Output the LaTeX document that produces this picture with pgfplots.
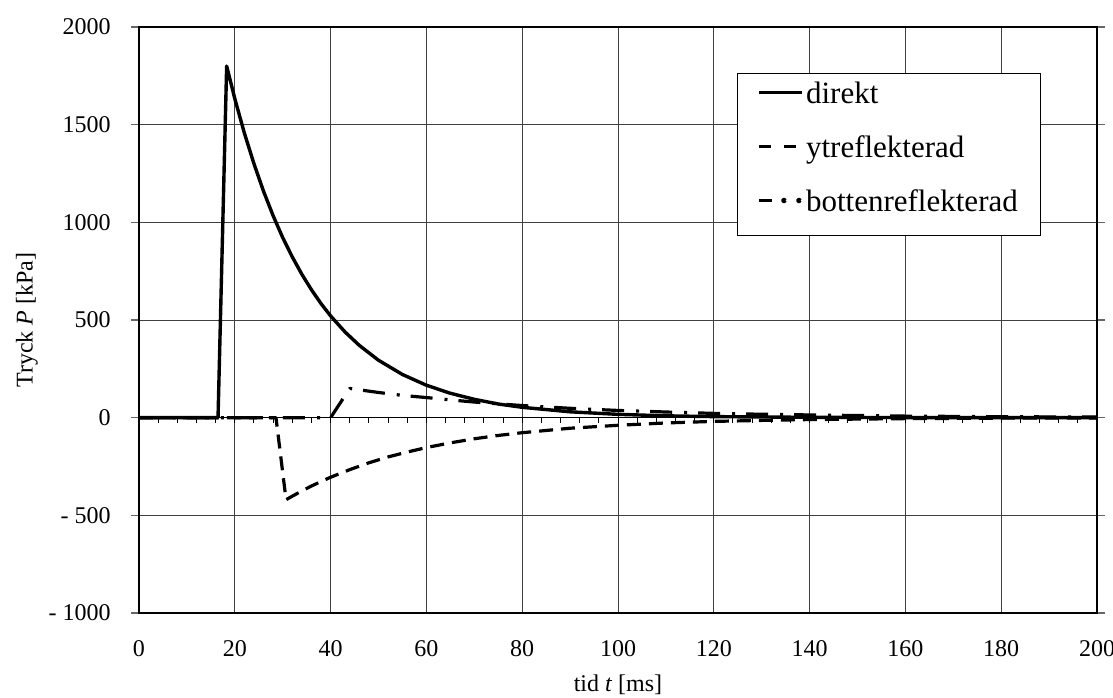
\documentclass[border=0pt]{standalone}
\usepackage{fontspec}
\setmainfont{Liberation Serif}
\usepackage{pgfplots}
\pgfplotsset{compat=1.18}

\begin{document}
\begin{tikzpicture}
\useasboundingbox (-69.5pt,-42pt) rectangle (487pt,306.5pt);
\begin{axis}[scale only axis,width=479pt,height=293pt,
 xmin=0,xmax=200,ymin=-1000,ymax=2000,
 xtick={0,20,...,200},ytick={-1000,-500,0,500,1000,1500,2000},
 xticklabels={0,20,40,60,80,100,120,140,160,180,200},
 yticklabels={- 1000,- 500,0,500,1000,1500,2000},
 grid=major,grid style={black!75,line width=0.5pt},
 axis line style={black,line width=1pt},
 xtick style={draw=none},
 ytick style={black!60,line width=0.6pt},tick align=outside,major tick length=4pt,
 tick label style={font=\fontsize{12}{14}\selectfont},
 xticklabel style={anchor=center,inner sep=0pt,yshift=-14pt},
 yticklabel style={anchor=east,inner sep=0pt,xshift=-10pt},
 every axis x label/.style={at={(rel axis cs:0.5,0)},anchor=center,yshift=-36pt,font=\fontsize{12}{14}\selectfont},
 every axis y label/.style={at={(rel axis cs:0,0.5)},anchor=center,xshift=-56pt,rotate=90,font=\fontsize{12}{14}\selectfont},
 xlabel={tid \textit{t} [ms]},ylabel={Tryck \textit{P} [kPa]},
 legend cell align=left,
 legend image code/.code={\draw[#1] (0pt,4pt) -- (21.5pt,4pt);},
 legend style={at={(rel axis cs:0.624,0.9215)},anchor=north west,draw=black,line width=0.5pt,
  font=\fontsize{15.5}{17}\selectfont,inner xsep=10pt,inner ysep=7pt,row sep=14pt,
  nodes={inner xsep=1.2pt,inner ysep=0pt,text height=8pt,text depth=5pt}},
 clip=false]
\draw[black,line width=0.8pt] (axis cs:0,0) -- (axis cs:200,0);
\pgfplotsinvokeforeach{4,8,...,196}{\draw[black,line width=0.5pt] (axis cs:#1,0) -- ([yshift=-2.5pt]axis cs:#1,0);}
\addplot[black,line width=1.7pt,line join=round] coordinates {
 (0,0) (16.5,0) (18.3,1800) (20,1633) (22,1457) (24,1300) (26,1159) (28,1034)
 (30,922) (32,823) (34,734) (36,655) (38,584) (40,521) (43,439) (46,370)
 (50,294) (55,221) (60,166) (65,125) (70,94) (75,70) (80,53) (90,30)
 (100,17) (110,9.5) (120,5.4) (140,1.7) (160,0.5) (200,0)};
\addlegendentry{direkt}
\addplot[black,line width=1.6pt,line join=round,dash pattern=on 7pt off 4pt,
 legend image code/.code={\draw[black,line width=1.6pt] (0pt,4pt) -- (6pt,4pt) (12.5pt,4pt) -- (18.5pt,4pt);}] coordinates {
 (0,0) (28.6,0) (30.7,-420) (32,-402) (34,-375) (36,-350) (38,-327) (40,-305)
 (44,-266) (48,-231) (52,-201) (56,-176) (60,-153) (65,-129) (70,-108) (75,-91)
 (80,-77) (90,-54) (100,-39) (110,-27) (120,-19) (130,-14) (140,-9.7)
 (160,-4.9) (180,-2.4) (200,-1.2)};
\addlegendentry{ytreflekterad}
\addplot[black,line width=1.6pt,line join=round,dash pattern=on 11pt off 6pt on 1.5pt off 5.5pt,
 legend image code/.code={\draw[black,line width=1.6pt] (0pt,4pt) -- (6.5pt,4pt);
  \fill[black] (12.5pt,4pt) circle (0.7pt) (20pt,4pt) circle (0.7pt);}] coordinates {
 (0,0) (40,0) (44,150) (45,146) (50,129) (55,114) (60,103) (65,91) (70,80)
 (75,71) (80,62) (90,48) (100,37) (110,29) (120,22) (130,17.5) (140,14)
 (160,8) (180,5) (200,3)};
\addlegendentry{bottenreflekterad}
\end{axis}
\end{tikzpicture}
\end{document}
